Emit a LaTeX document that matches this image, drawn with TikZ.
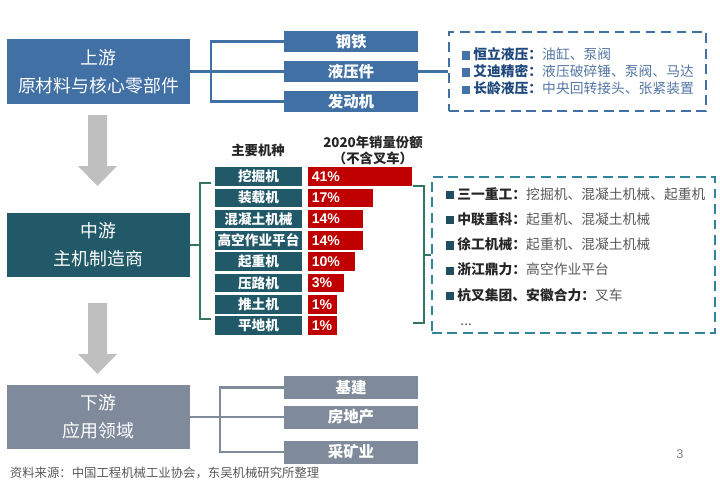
\documentclass[tikz,border=0pt]{standalone}
\usepackage{fontspec}
\setmainfont{Noto Sans CJK SC}
\newfontfamily\pctfont{Liberation Sans}
\usetikzlibrary{positioning}
\definecolor{upblue}{RGB}{64,112,164}
\definecolor{midteal}{RGB}{33,89,104}
\definecolor{downgray}{RGB}{127,138,154}
\definecolor{barred}{RGB}{192,0,0}
\definecolor{brkgreen}{RGB}{50,118,98}
\definecolor{dashteal}{RGB}{49,132,155}
\definecolor{arrowgray}{RGB}{191,191,191}
\definecolor{hbul}{RGB}{68,114,170}
\definecolor{hlab}{RGB}{31,72,125}
\definecolor{htxt}{RGB}{84,118,164}
\definecolor{zbul}{RGB}{31,78,96}
\definecolor{zlab}{RGB}{38,38,38}
\definecolor{ztxt}{RGB}{89,89,89}
\tikzset{
    bigbox/.style = {rectangle, inner sep=0pt, minimum width=4.575cm, minimum height=1.6cm, align=center, text=white, font=\fontsize{12.7}{20}\selectfont},
    subbox/.style = {rectangle, inner sep=0pt, minimum width=3.35cm, minimum height=0.525cm, text=white, font=\bfseries\fontsize{11}{13}\selectfont},
    typecell/.style = {rectangle, inner sep=0pt, minimum width=2.175cm, minimum height=0.4625cm, fill=midteal, text=white, font=\bfseries\fontsize{9.7}{11}\selectfont},
    barcell/.style = {rectangle, inner sep=0pt, minimum height=0.4625cm, fill=barred},
    barlab/.style = {inner sep=0pt, text=white, font=\pctfont\bfseries\fontsize{10}{11}\selectfont},
    dashbox/.style = {rectangle, inner sep=0pt, draw=#1, line width=1.5pt, dash pattern=on 7pt off 4pt},
    edgeu/.style = {line width=1.5pt, upblue},
    edged/.style = {line width=1.5pt, downgray},
    bracket/.style = {line width=1.5pt, brkgreen},
    blockarrow/.style = {fill=arrowgray},
    headtext/.style = {align=center, text=zlab, font=\bfseries\fontsize{9.5}{11.4}\selectfont}
}
\newcommand{\Hy}[2]{\textcolor{hbul}{\rule{0.6em}{0.6em}}\ \textcolor{hlab}{\bfseries #1：}\textcolor{htxt}{#2}}
\newcommand{\Zj}[2]{\textcolor{zbul}{\rule{0.6em}{0.6em}}\ \textcolor{zlab}{\bfseries #1：}\textcolor{ztxt}{#2}}
\begin{document}
\begin{tikzpicture}[x=0.025cm, y=-0.025cm]
\useasboundingbox (0,0) rectangle (720,481);
% chain
\node[bigbox, fill=upblue] at (98.5,71.5) (up) {上游\\原材料与核心零部件};
\node[bigbox, fill=midteal] at (98.5,245) (mid) {中游\\主机制造商};
\node[bigbox, fill=downgray] at (98.5,417) (down) {下游\\应用领域};
\foreach \t in {115,303}
  \fill[blockarrow] (88,\t) -- (107,\t) -- (107,\t+51) -- (117,\t+51) -- (97.5,\t+71) -- (78,\t+51) -- (88,\t+51) -- cycle;
%
\node[subbox, fill=upblue] at (351,41.5) (steel) {钢铁};
\node[subbox, fill=upblue] at (351,71.5) (hydr) {液压件};
\node[subbox, fill=upblue] at (351,101.5) (engine) {发动机};
\coordinate (upbus) at (211,71.5);
\draw[edgeu] (steel.west) -| (upbus) |- (engine.west);
\draw[edgeu] (up.east) -- (hydr.west);
\node[dashbox=upblue, minimum width=6.425cm, minimum height=1.975cm] at (577.5,71.5) (hydbox) {};
\draw[edgeu] (hydr.east) -- (hydbox.west);
\node[anchor=west, align=left, font=\fontsize{9.8}{12.1}\selectfont] at (457,71.5) (hydlist) {\Hy{恒立液压}{油缸、泵阀}\\\Hy{艾迪精密}{液压破碎锤、泵阀、马达}\\\Hy{长龄液压}{中央回转接头、张紧装置}};
%
\node[headtext] at (258,150) (typehead) {主要机种};
\node[headtext] at (373,150) (sharehead) {2020年销量份额\\（不含叉车）};
\foreach \kind/\share/\len [count=\i from 0] in {挖掘机/41/104, 装载机/17/65, 混凝土机械/14/55, 高空作业平台/14/55, 起重机/10/47, 压路机/3/36, 推土机/1/29, 平地机/1/29}{
  \node[typecell] at (258.5,176.5+21.3*\i) (type\i) {\kind};
  \node[barcell, minimum width=\len*0.025cm, anchor=west] at (308,176.5+21.3*\i) (bar\i) {};
  \node[barlab, right=2.5pt of bar\i.west] (lab\i) {\share\%};
}
\coordinate (lbt) at (211,183);
\coordinate (lbb) at (211,319);
\draw[bracket] (lbt) -- ++(-11,0) |- (lbb);
\draw[bracket] (mid.east) -- ++(10,0);
\coordinate (rbt) at (413,186);
\coordinate (rbb) at (413,323);
\draw[bracket] (rbt) -- ++(11,0) |- (rbb);
\node[dashbox=dashteal, minimum width=7.075cm, minimum height=3.9cm] at (573.5,255) (makerbox) {};
\draw[bracket] (makerbox.west) -- ++(-8,0);
\node[anchor=west, align=left, font=\fontsize{9.8}{18}\selectfont] at (441,256.5) (makerlist) {\Zj{三一重工}{挖掘机、混凝土机械、起重机}\\\Zj{中联重科}{起重机、混凝土机械}\\\Zj{徐工机械}{起重机、混凝土机械}\\\Zj{浙江鼎力}{高空作业平台}\\\Zj{杭叉集团、安徽合力}{叉车}\\\hspace{1.05em}\textcolor{ztxt}{...}};
%
\node[subbox, fill=downgray, minimum height=0.575cm] at (351,387.5) (infra) {基建};
\node[subbox, fill=downgray, minimum height=0.575cm] at (351,417) (estate) {房地产};
\node[subbox, fill=downgray, minimum height=0.575cm] at (351,452) (mining) {采矿业};
\coordinate (downbus) at (220,417);
\draw[edged] (infra.west) -| (downbus) |- (mining.west);
\draw[edged] (down.east) -- (estate.west);
%
\node[anchor=west, text=ztxt, font=\fontsize{8.8}{10}\selectfont] at (5,473) (source) {资料来源：中国工程机械工业协会，东吴机械研究所整理};
\node[text=gray, font=\pctfont\fontsize{9}{10}\selectfont] at (680,454) (page) {3};
\end{tikzpicture}
\end{document}
